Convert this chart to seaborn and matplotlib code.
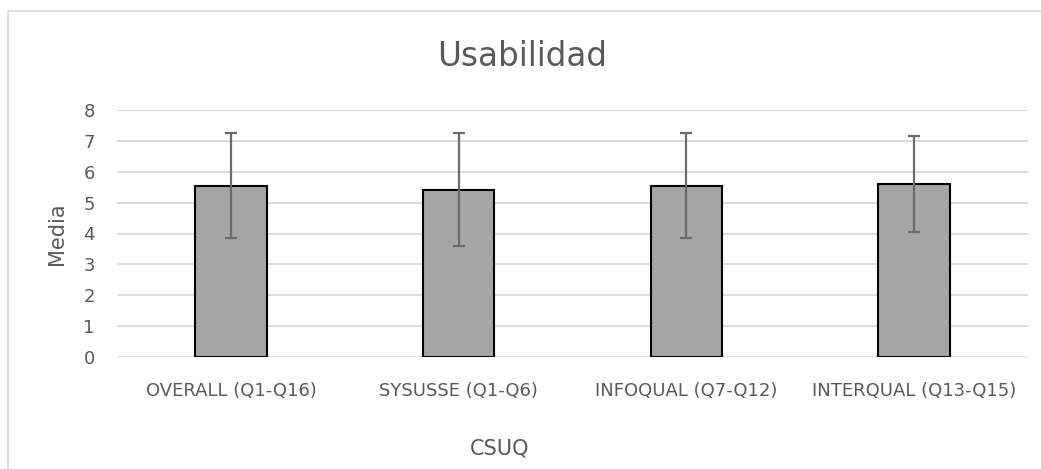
import matplotlib
matplotlib.use("Agg")
import matplotlib.pyplot as plt
import seaborn as sns
import numpy as np
import pandas as pd
from matplotlib.patches import Rectangle

categories = ["OVERALL (Q1-Q16)", "SYSUSSE (Q1-Q6)", "INFOQUAL (Q7-Q12)", "INTERQUAL (Q13-Q15)"]
means = [5.55, 5.42, 5.55, 5.60]
sds = [1.69, 1.82, 1.69, 1.55]
yticks = [0, 1, 2, 3, 4, 5, 6, 7, 8]

sns.set_theme(style="white")
plt.rcParams['font.family'] = ['DejaVu Sans']

text_color = "#595959"
df = pd.DataFrame({"cat": categories, "mean": means, "sd": sds})

fig = plt.figure(figsize=(10.41, 4.69), dpi=100)
ax = fig.add_axes([117/1041, 1-357/469, (1028-117)/1041, (357-110)/469])

ax.set_axisbelow(True)
ax.yaxis.grid(True, color="#D9D9D9", linewidth=1.3)
ax.xaxis.grid(False)

sns.barplot(data=df, x="cat", y="mean", color="#A5A5A5", edgecolor="black",
            linewidth=1.5, width=0.315, errorbar=None, saturation=1, ax=ax)
ax.errorbar(np.arange(len(categories)), df["mean"], yerr=df["sd"], fmt="none",
            ecolor="#6B6B6B", elinewidth=1.6, capsize=4.5, capthick=1.6, zorder=5)

ax.set_ylim(0, 8)
ax.set_xlim(-0.5, len(categories) - 0.5)
ax.set_yticks(yticks)
ax.set_yticklabels([str(v) for v in yticks])
for s in ax.spines.values():
    s.set_visible(False)
ax.tick_params(axis="both", length=0, labelsize=13, colors=text_color)
ax.tick_params(axis="y", pad=16)
ax.tick_params(axis="x", pad=18)
ax.set_xlabel("")
ax.set_ylabel("Media", fontsize=15, color=text_color, labelpad=12)

fig.text(522/1041, 1-57/469, "Usabilidad", ha="center", va="center", fontsize=23.5, color=text_color)
fig.text(500/1041, 1-448/469, "CSUQ", ha="center", va="center", fontsize=15, color=text_color)

fig.patches.append(Rectangle((8/1041, -0.1), 1.2, 1-11.5/469+0.1, transform=fig.transFigure,
                             fill=False, edgecolor="#D9D9D9", linewidth=1.2))

fig.savefig("out.png", dpi=100, facecolor="white")
